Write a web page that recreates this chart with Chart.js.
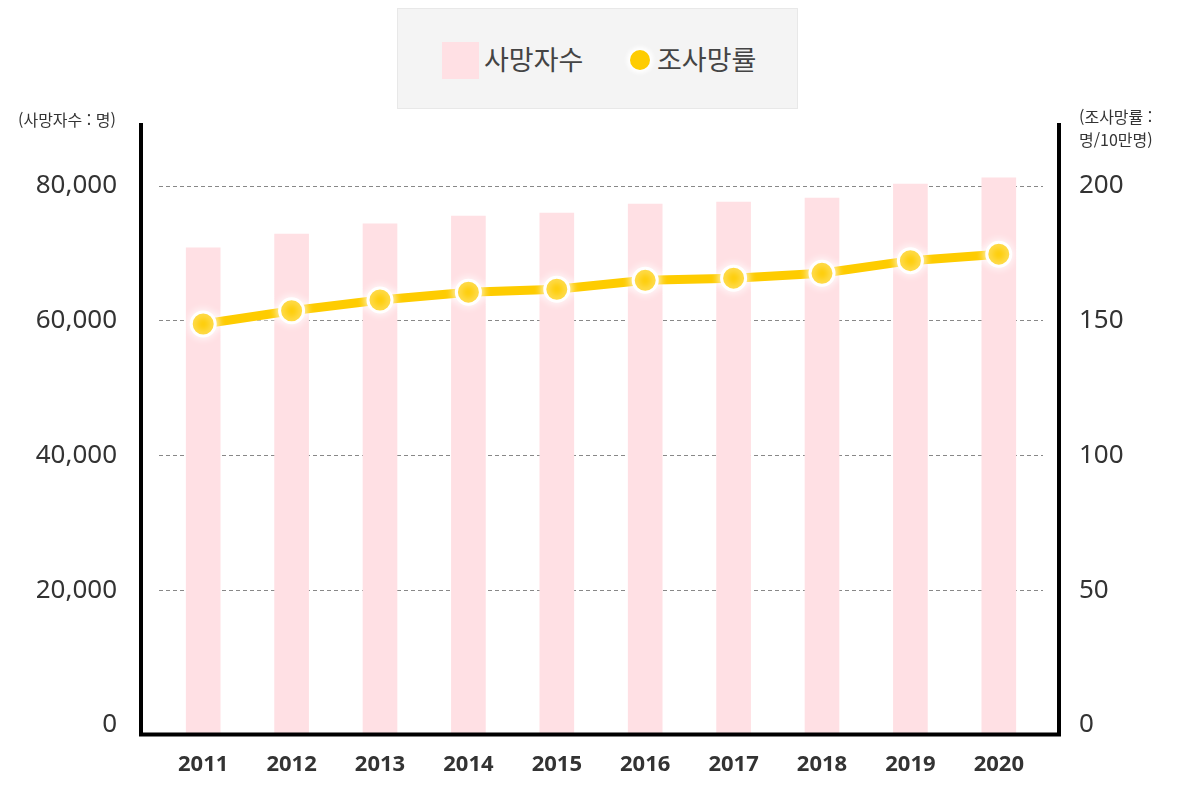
<!DOCTYPE html>
<html lang="ko">
<head>
<meta charset="utf-8">
<script src="https://cdn.jsdelivr.net/npm/chart.js@4"></script>
<style>
    body { margin: 0; background: #fff; font-family: "Noto Sans CJK KR", "Noto Sans", sans-serif; }
    #wrap { position: relative; width: 1200px; height: 800px; }
    #grafico { position: absolute; left: 0; top: 0; }
    .leyenda { position: absolute; left: 397px; top: 8px; width: 399px; height: 99px; background: #f4f4f4; border: 1px solid #e8e8e8; }
    .leyenda .cuadro { position: absolute; left: 44px; top: 33px; width: 37px; height: 37px; background: #ffe0e4; }
    .leyenda .circulo { position: absolute; left: 232px; top: 41px; width: 20px; height: 20px; border-radius: 50%; background: #fecc00; box-shadow: 0 0 4px 3px #fff; }
    .leyenda span { position: absolute; top: 30px; font-size: 27px; line-height: 40px; color: #444; }
    .titulo { position: absolute; font-size: 16px; line-height: 23px; color: #333; }
</style>
</head>
<body>
<div id="wrap">
    <canvas id="grafico" width="1200" height="800"></canvas>
    <div class="leyenda">
        <div class="cuadro"></div><span style="left:86px">사망자수</span>
        <div class="circulo"></div><span style="left:259px">조사망률</span>
    </div>
    <div class="titulo" style="left:18px; top:108px">(사망자수 : 명)</div>
    <div class="titulo" style="left:1079px; top:105px">(조사망률 :<br>명/10만명)</div>
</div>
<script>
//Datos
const anios = ['2011', '2012', '2013', '2014', '2015', '2016', '2017', '2018', '2019', '2020'];
const sapangjasu = [70840, 72880, 74400, 75550, 75990, 77330, 77630, 78220, 80300, 81230];
const josamangryul = [148.8, 153.7, 157.7, 160.6, 161.7, 165.0, 165.8, 167.6, 172.3, 174.7];
const ticksIzq = [0, 20000, 40000, 60000, 80000];
const ticksDer = [0, 50, 100, 150, 200];

const colorBarra = '#ffe0e4';
const colorLinea = '#fecc00';
const colorTexto = '#333';
const fuenteNum = '"Noto Sans", "Noto Sans CJK KR", sans-serif';

//Brillo blanco alrededor de la linea
const brilloLinea = {
    id: 'brilloLinea',
    beforeDatasetDraw(chart, args) {
        if (args.index !== 0) return;
        const ctx = chart.ctx;
        ctx.save();
        ctx.shadowColor = 'rgba(255,255,255,1)';
        ctx.shadowBlur = 10;
    },
    afterDatasetDraw(chart, args) {
        if (args.index !== 0) return;
        chart.ctx.restore();
    }
};

//Ejes negros gruesos
const ejesNegros = {
    id: 'ejesNegros',
    afterDatasetsDraw(chart) {
        const ctx = chart.ctx;
        const a = chart.chartArea;
        ctx.save();
        ctx.strokeStyle = '#000';
        ctx.lineWidth = 4;
        ctx.beginPath();
        ctx.moveTo(a.left - 18, 123);
        ctx.lineTo(a.left - 18, a.bottom + 9.5);
        ctx.moveTo(a.left - 20, a.bottom + 9.5);
        ctx.lineTo(a.right + 18, a.bottom + 9.5);
        ctx.moveTo(a.right + 16, 123);
        ctx.lineTo(a.right + 16, a.bottom + 9.5);
        ctx.stroke();
        ctx.restore();
    }
};

const data = {
    labels: anios,
    datasets: [{
        type: 'line',
        label: '조사망률',
        data: josamangryul,
        yAxisID: 'y2',
        borderColor: colorLinea,
        borderWidth: 9,
        tension: 0,
        pointRadius: 12,
        pointHoverRadius: 12,
        pointBackgroundColor: colorLinea,
        pointBorderColor: '#fff',
        pointBorderWidth: 3,
        order: 1
    }, {
        type: 'bar',
        label: '사망자수',
        data: sapangjasu,
        yAxisID: 'y',
        backgroundColor: colorBarra,
        barThickness: 34,
        base: -1200,
        clip: false,
        order: 2
    }]
};

const config = {
    data: data,
    options: {
        responsive: false,
        animation: false,
        layout: { padding: { top: 186, left: 0, right: 0, bottom: 0 } },
        plugins: {
            legend: { display: false },
            tooltip: { enabled: false }
        },
        scales: {
            x: {
                grid: { display: false },
                border: { display: false },
                ticks: {
                    color: colorTexto,
                    padding: 19,
                    font: { family: fuenteNum, size: 22, weight: 'bold' }
                },
                afterFit(scale) { scale.height = 75; }
            },
            y: {
                position: 'left',
                min: 0,
                max: 80000,
                afterBuildTicks(scale) { scale.ticks = ticksIzq.map(v => ({ value: v })); },
                grid: {
                    color: ctx => ctx.tick && ctx.tick.value === 0 ? 'rgba(0,0,0,0)' : '#888',
                    lineWidth: 1,
                    drawTicks: false
                },
                border: { display: false, dash: [4, 3] },
                ticks: {
                    color: colorTexto,
                    padding: 42,
                    font: { family: fuenteNum, size: 26 },
                    callback: v => v.toLocaleString('en-US')
                },
                afterFit(scale) { scale.width = 159; }
            },
            y2: {
                position: 'right',
                min: 0,
                max: 200,
                afterBuildTicks(scale) { scale.ticks = ticksDer.map(v => ({ value: v })); },
                grid: { display: false, drawTicks: false },
                border: { display: false },
                ticks: {
                    color: colorTexto,
                    padding: 36,
                    font: { family: fuenteNum, size: 26 }
                },
                afterFit(scale) { scale.width = 157; }
            }
        }
    },
    plugins: [brilloLinea, ejesNegros]
};

new Chart(document.querySelector('#grafico'), config);
</script>
</body>
</html>
